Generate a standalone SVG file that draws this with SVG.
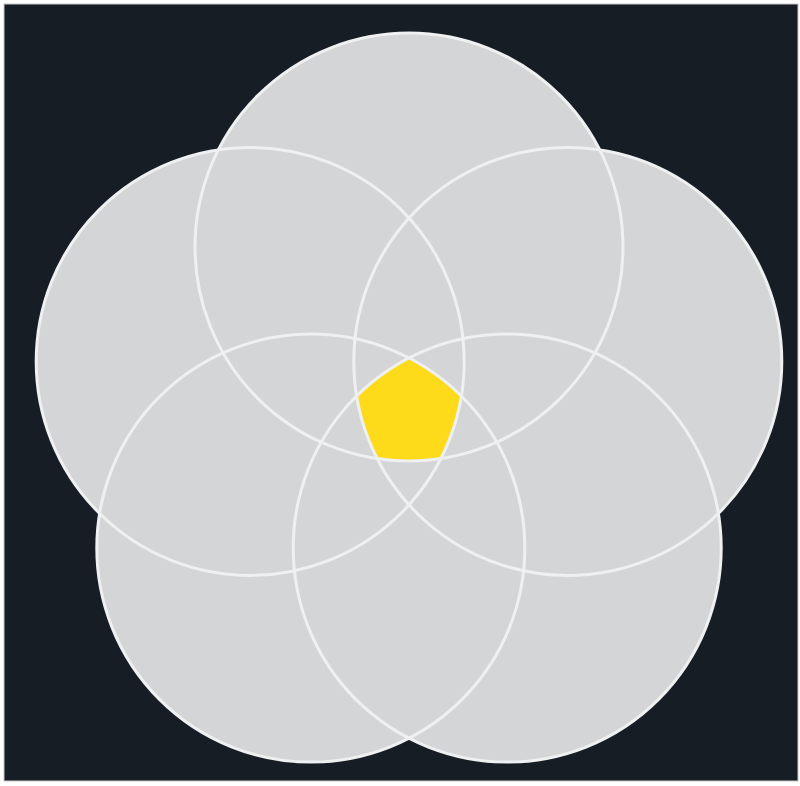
<svg xmlns="http://www.w3.org/2000/svg" xmlns:xlink="http://www.w3.org/1999/xlink" width="800" height="786" viewBox="0 0 800 786">
<style>
.fill{fill:#d4d5d6;stroke:none}
.edge{fill:none;stroke:#eef0f1;stroke-width:3}
.core{fill:#fedb1a;stroke:none}
</style>
<defs>
<circle id="c1" cx="409" cy="247" r="214"/>
<circle id="c2" cx="567.8" cy="361.4" r="214"/>
<circle id="c3" cx="507.2" cy="548.1" r="214"/>
<circle id="c4" cx="310.8" cy="548.1" r="214"/>
<circle id="c5" cx="250.2" cy="361.4" r="214"/>
</defs>
<rect x="0" y="0" width="800" height="786" fill="#ffffff"/>
<rect x="4" y="4" width="794" height="777" fill="#161d24" stroke="#c8c8c8" stroke-width="1"/>
<g id="set-top"><use xlink:href="#c1" class="fill"/></g>
<g id="set-right"><use xlink:href="#c2" class="fill"/></g>
<g id="set-bottom-right"><use xlink:href="#c3" class="fill"/></g>
<g id="set-bottom-left"><use xlink:href="#c4" class="fill"/></g>
<g id="set-left"><use xlink:href="#c5" class="fill"/></g>
<g id="intersection">
<path class="core" d="M409,358 A214,214 0 0 1 461.3,396 A214,214 0 0 1 441.3,457.5 A214,214 0 0 1 376.7,457.5 A214,214 0 0 1 356.7,396 A214,214 0 0 1 409,358 Z"/>
</g>
<g id="outlines">
<use xlink:href="#c1" class="edge"/>
<use xlink:href="#c2" class="edge"/>
<use xlink:href="#c3" class="edge"/>
<use xlink:href="#c4" class="edge"/>
<use xlink:href="#c5" class="edge"/>
</g>
</svg>
